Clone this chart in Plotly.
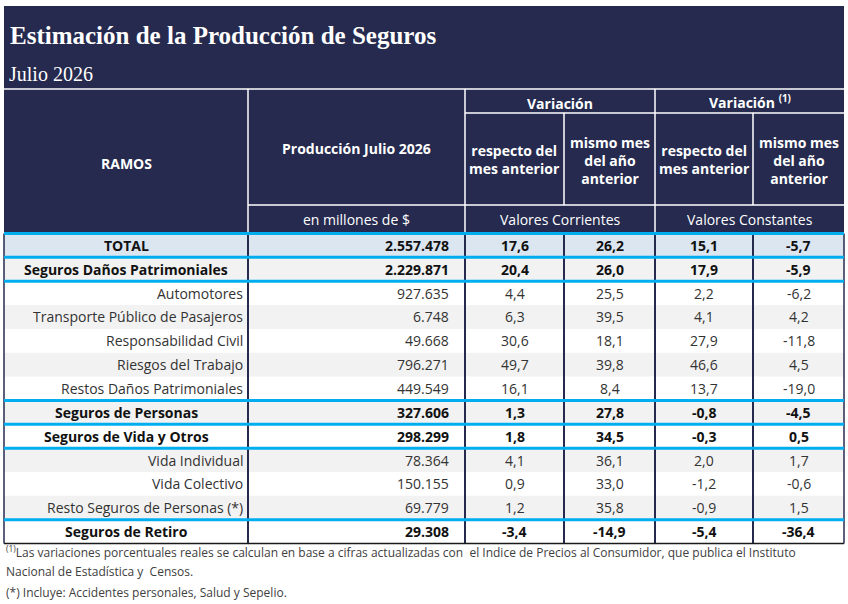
import plotly.graph_objects as go

# datos de la tabla
ramos = [
    "TOTAL", "Seguros Daños Patrimoniales", "Automotores",
    "Transporte Público de Pasajeros", "Responsabilidad Civil",
    "Riesgos del Trabajo", "Restos Daños Patrimoniales",
    "Seguros de Personas", "Seguros de Vida y Otros", "Vida Individual",
    "Vida Colectivo", "Resto Seguros de Personas (*)", "Seguros de Retiro",
]
nivel = ["T", "G", "I", "I", "I", "I", "I", "G", "G", "I", "I", "I", "G"]
produccion = [2557478, 2229871, 927635, 6748, 49668, 796271, 449549,
              327606, 298299, 78364, 150155, 69779, 29308]
var_mes_corr = [17.6, 20.4, 4.4, 6.3, 30.6, 49.7, 16.1, 1.3, 1.8, 4.1, 0.9, 1.2, -3.4]
var_anio_corr = [26.2, 26.0, 25.5, 39.5, 18.1, 39.8, 8.4, 27.8, 34.5, 36.1, 33.0, 35.8, -14.9]
var_mes_const = [15.1, 17.9, 2.2, 4.1, 27.9, 46.6, 13.7, -0.8, -0.3, 2.0, -1.2, -0.9, -5.4]
var_anio_const = [-5.7, -5.9, -6.2, 4.2, -11.8, 4.5, -19.0, -4.5, 0.5, 1.7, -0.6, 1.5, -36.4]
# filas despues de las cuales va una linea celeste
cortes = [0, 1, 6, 7, 8, 11]

titulo = "Estimación de la Producción de Seguros"
subtitulo = "Julio 2026"
nota1 = ("<sup>(1)</sup>Las variaciones porcentuales reales se calculan en base a cifras "
         "actualizadas con  el Indice de Precios al Consumidor, que publica el Instituto")
nota2 = "Nacional de Estadística y  Censos."
nota3 = "(*) Incluye: Accidentes personales, Salud y Sepelio."

NAVY = "#252a4e"
CELESTE = "#00aeef"
GRIS = "#f2f2f2"
TOTAL_BG = "#dce6f1"
SANS = "Open Sans"
SERIF = "Liberation Serif"

# geometria (px)
X0, XR = 4, 844
cols = [4, 248, 465, 564, 655, 753, 844]
Y_TOP, Y_LINE, Y_VAR, Y_SUB, Y_BODY = 6, 89, 113, 205, 233.5
ROW_H = 23.85


def fmt_int(n):
    return f"{n:,}".replace(",", ".")


def fmt_dec(v):
    return f"{v:.1f}".replace(".", ",")


fig = go.Figure()
shapes = []
annots = []


def rect(x0, y0, x1, y1, color):
    shapes.append(dict(type="rect", x0=x0, y0=y0, x1=x1, y1=y1, xref="x", yref="y",
                       fillcolor=color, line=dict(width=0), layer="below"))


def line(x0, y0, x1, y1, color, w):
    shapes.append(dict(type="line", x0=x0, y0=y0, x1=x1, y1=y1, xref="x", yref="y",
                       line=dict(color=color, width=w)))


def text(x, y, s, size, color, anchor="center", family=SANS):
    annots.append(dict(x=x, y=y, text=s, xref="x", yref="y", showarrow=False,
                       xanchor=anchor, yanchor="middle", align=anchor,
                       font=dict(family=family, size=size, color=color)))


# encabezado
rect(X0, Y_TOP, XR, Y_BODY, NAVY)
text(8, 35, f"<b>{titulo}</b>", 25, "white", "left", SERIF)
text(7, 74, subtitulo, 20, "white", "left", SERIF)
line(X0, Y_LINE, XR, Y_LINE, "white", 1.5)
for cx in [cols[1], cols[2], cols[4]]:
    line(cx, Y_LINE, cx, Y_BODY, "white", 1.5)
for cx in [cols[3], cols[5]]:
    line(cx, Y_VAR, cx, Y_SUB, "white", 1.5)
line(cols[2], Y_VAR, XR, Y_VAR, "white", 1.5)
line(cols[1], Y_SUB, XR, Y_SUB, "white", 1.5)

hw = "white"
text((cols[0] + cols[1]) / 2, 163, "<b>RAMOS</b>", 14, hw)
text((cols[1] + cols[2]) / 2, 148, "<b>Producción Julio 2026</b>", 14, hw)
text((cols[1] + cols[2]) / 2, 219, "en millones de $", 14, hw)
text((cols[2] + cols[4]) / 2, 103, "<b>Variación</b>", 14, hw)
text((cols[4] + cols[6]) / 2, 102, "<b>Variación <sup>(1)</sup></b>", 14, hw)
for a, b in [(2, 3), (4, 5)]:
    text((cols[a] + cols[a + 1]) / 2, 159, "<b>respecto del<br>mes anterior</b>", 14, hw)
    text((cols[b] + cols[b + 1]) / 2, 160, "<b>mismo mes<br>del año<br>anterior</b>", 14, hw)
text((cols[2] + cols[4]) / 2, 219, "Valores Corrientes", 14, hw)
text((cols[4] + cols[6]) / 2, 219, "Valores Constantes", 14, hw)

# cuerpo
n = len(ramos)
for i in range(n):
    y0 = Y_BODY + i * ROW_H
    y1 = y0 + ROW_H
    yc = (y0 + y1) / 2
    if nivel[i] == "T":
        rect(X0, y0, XR, y1, TOTAL_BG)
    elif i % 2 == 1:
        rect(X0, y0, XR, y1, GRIS)
    bold = nivel[i] != "I"
    col_txt = "#111111" if bold else "#333333"

    def b(s):
        return f"<b>{s}</b>" if bold else s

    if bold:
        text((cols[0] + cols[1]) / 2, yc, b(ramos[i]), 14, col_txt)
    else:
        text(cols[1] - 3, yc, ramos[i], 14, col_txt, "right")
    text(451, yc, b(fmt_int(produccion[i])), 14, col_txt, "right")
    for k, serie in enumerate([var_mes_corr, var_anio_corr, var_mes_const, var_anio_const]):
        text((cols[2 + k] + cols[3 + k]) / 2, yc, b(fmt_dec(serie[i])), 14, col_txt)

y_end = Y_BODY + n * ROW_H
for cx in cols[1:-1]:
    line(cx, Y_BODY, cx, y_end, NAVY, 2)
line(X0, Y_BODY, X0, y_end, NAVY, 1.5)
line(XR, Y_BODY, XR, y_end, NAVY, 1.5)
line(X0, Y_BODY, XR, Y_BODY, CELESTE, 3)
for i in cortes:
    yy = Y_BODY + (i + 1) * ROW_H
    line(X0, yy, XR, yy, CELESTE, 3)
line(X0, y_end, XR, y_end, "#1a1a1a", 1.5)

# notas
text(4, 552, nota1, 12, "#404040", "left")
text(4, 571, nota2, 12, "#404040", "left")
text(4, 592, nota3, 12, "#404040", "left")

fig.update_layout(
    width=848, height=604, margin=dict(l=0, r=0, t=0, b=0),
    paper_bgcolor="white", plot_bgcolor="white",
    xaxis=dict(range=[0, 848], visible=False, fixedrange=True),
    yaxis=dict(range=[604, 0], visible=False, fixedrange=True),
    shapes=shapes, annotations=annots, showlegend=False,
)

fig.write_html(
    "out.html",
    config={"displayModeBar": False},
    post_script="document.body.style.margin='0';document.body.style.overflow='hidden';",
)
